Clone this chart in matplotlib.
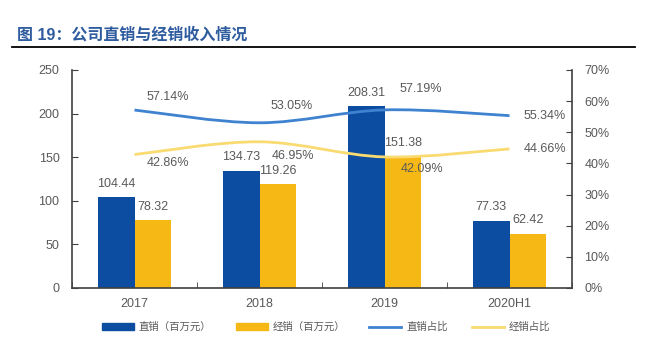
import matplotlib.pyplot as plt
import numpy as np
from matplotlib.path import Path
from matplotlib.patches import PathPatch, Patch
from matplotlib.lines import Line2D

plt.rcParams['font.family'] = ['Liberation Sans', 'Noto Sans CJK SC', 'DejaVu Sans']

years = ['2017', '2018', '2019', '2020H1']
direct = [104.44, 134.73, 208.31, 77.33]
dealer = [78.32, 119.26, 151.38, 62.42]
direct_pct = [57.14, 53.05, 57.19, 55.34]
dealer_pct = [42.86, 46.95, 42.09, 44.66]

c_bar1 = '#0C4DA2'
c_bar2 = '#F6B815'
c_line1 = '#3F82D0'
c_line2 = '#F9DB72'
gray = '#595959'


def smooth_path(xs, ys):
    # catmull-rom style bezier through the points
    pts = np.column_stack([xs, ys]).astype(float)
    n = len(pts)
    verts = [pts[0]]
    codes = [Path.MOVETO]
    for i in range(n - 1):
        p0 = pts[i - 1] if i > 0 else pts[i]
        p1 = pts[i]
        p2 = pts[i + 1]
        p3 = pts[i + 2] if i + 2 < n else pts[i + 1]
        verts += [p1 + (p2 - p0) / 6, p2 - (p3 - p1) / 6, p2]
        codes += [Path.CURVE4] * 3
    return Path(verts, codes)


fig = plt.figure(figsize=(6.65, 3.5), dpi=100)
ax = fig.add_axes([72 / 665, 62 / 350, 500 / 665, 218 / 350])
ax2 = ax.twinx()

x = np.arange(len(years))
w = 0.292
ax.bar(x - w / 2, direct, w, color=c_bar1, zorder=2)
ax.bar(x + w / 2, dealer, w, color=c_bar2, zorder=2)
for i in range(len(years)):
    ax.text(x[i] - w / 2, direct[i] + 15, f'{direct[i]:.2f}', ha='center', va='center', fontsize=9, color=gray)
    ax.text(x[i] + w / 2, dealer[i] + 15, f'{dealer[i]:.2f}', ha='center', va='center', fontsize=9, color=gray)

ax.set_xlim(-0.5, 3.5)
ax.set_ylim(0, 250)
ax.set_yticks(range(0, 251, 50))
ax.set_xticks(x)
ax.set_xticklabels(years)
ax.set_xticks(np.arange(-0.5, 3.6, 1), minor=True)
ax.tick_params(axis='x', which='major', length=0, pad=7)
ax.tick_params(axis='x', which='minor', direction='in', length=4, color='#404040')
ax.tick_params(axis='y', direction='in', length=4, color='#404040', pad=9)
ax.tick_params(labelsize=9, labelcolor=gray)
ax.spines['top'].set_visible(False)
for s in ['left', 'bottom']:
    ax.spines[s].set_color('#404040')
    ax.spines[s].set_linewidth(1.2)
ax.spines['right'].set_visible(False)

ax2.set_ylim(0, 70)
ax2.set_yticks(range(0, 71, 10))
ax2.set_yticklabels([f'{v}%' for v in range(0, 71, 10)])
ax2.tick_params(axis='y', direction='in', length=4, color='#404040', labelsize=9, labelcolor=gray, pad=9)
ax2.spines['top'].set_visible(False)
ax2.spines['left'].set_visible(False)
ax2.spines['bottom'].set_visible(False)
ax2.spines['right'].set_color('#404040')
ax2.spines['right'].set_linewidth(1.2)

ax2.add_patch(PathPatch(smooth_path(x, direct_pct), fill=False, edgecolor=c_line1, lw=2, zorder=3))
ax2.add_patch(PathPatch(smooth_path(x, dealer_pct), fill=False, edgecolor=c_line2, lw=2, zorder=3))

# percent labels (offsets in x units / percent points)
off1 = [(0.27, 4.2), (0.26, 5.5), (0.29, 6.7), (0.28, 0.0)]
off2 = [(0.27, -2.6), (0.27, -4.5), (0.30, -3.9), (0.28, 0.0)]
for i in range(len(years)):
    dx, dy = off1[i]
    ax2.text(x[i] + dx, direct_pct[i] + dy, f'{direct_pct[i]:.2f}%', ha='center', va='center', fontsize=9, color=gray)
    dx, dy = off2[i]
    ax2.text(x[i] + dx, dealer_pct[i] + dy, f'{dealer_pct[i]:.2f}%', ha='center', va='center', fontsize=9, color=gray)

handles = [Patch(color=c_bar1), Patch(color=c_bar2),
           Line2D([], [], color=c_line1, lw=2), Line2D([], [], color=c_line2, lw=2)]
labels = ['直销（百万元）', '经销（百万元）', '直销占比', '经销占比']
fig.legend(handles, labels, loc='center', bbox_to_anchor=(326 / 665, 1 - 327 / 350), ncol=4,
           frameon=False, fontsize=7.5, labelcolor=gray, handlelength=3.1, handleheight=0.65,
           columnspacing=2.3, handletextpad=0.45)

fig.text(17 / 665, 1 - 35 / 350, '图 19：公司直销与经销收入情况', fontsize=11.5, fontweight='bold',
         color='#2F5C9E', va='center', ha='left')
fig.add_artist(Line2D([12 / 665, 635 / 665], [1 - 47 / 350, 1 - 47 / 350], color='black', lw=1.3))

fig.savefig('out.png', dpi=100)
